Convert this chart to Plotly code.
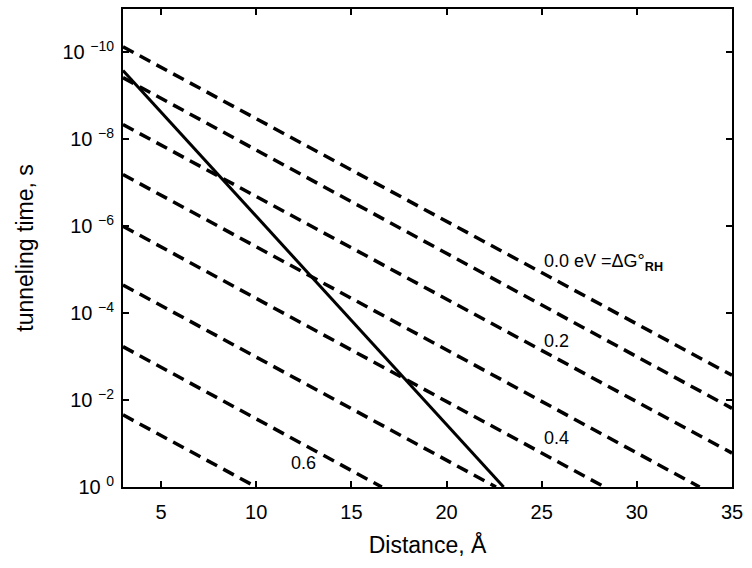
import math
import plotly.graph_objects as go

# Driving force of each dashed line (eV)
delta_g = [0.0, 0.1, 0.2, 0.3, 0.4, 0.5, 0.6, 0.7]
# Endpoints of each dashed line (distance in Å, time in s)
dash_x_start = [3, 3, 3, 3, 3, 3, 3, 3]
dash_t_start = [7.41e-11, 3.80e-10, 4.57e-9, 6.46e-8, 1.0e-6, 2.24e-5, 5.89e-4, 2.19e-2]
dash_x_end = [35, 35, 35, 33.3, 28.3, 22.6, 16.6, 10.0]
dash_t_end = [2.69e-3, 1.55e-2, 0.166, 1.0, 1.0, 1.0, 1.0, 1.0]

# Solid line endpoints
solid_x = [3, 23]
solid_t = [2.6e-10, 1.0]

# Axis ticks
x_ticks = [5, 10, 15, 20, 25, 30, 35]
y_tick_vals = [1e-10, 1e-8, 1e-6, 1e-4, 1e-2, 1e0]
y_tick_text = ["10 <sup>\u221210</sup>", "10 <sup>\u22128</sup>", "10 <sup>\u22126</sup>",
               "10 <sup>\u22124</sup>", "10 <sup>\u22122</sup>", "10 <sup>0</sup>"]

# Labels (text, x, time value)
label_text = ["0.0 eV =\u0394G\u00b0<sub><b>RH</b></sub>", "0.2", "0.4", "0.6"]
label_x = [25.0, 25.0, 25.0, 11.7]
label_t = [6.9e-6, 4.3e-4, 7.6e-2, 0.28]

FONT = "Arial, Liberation Sans, sans-serif"

fig = go.Figure()
for i in range(len(delta_g)):
    fig.add_trace(go.Scatter(
        x=[dash_x_start[i], dash_x_end[i]],
        y=[dash_t_start[i], dash_t_end[i]],
        mode="lines",
        line=dict(color="black", width=3.5, dash="12px,7px"),
        showlegend=False, hoverinfo="skip",
    ))
fig.add_trace(go.Scatter(
    x=solid_x, y=solid_t, mode="lines",
    line=dict(color="black", width=3), showlegend=False, hoverinfo="skip",
))

for t, x, y in zip(label_text, label_x, label_t):
    fig.add_annotation(x=x, y=math.log10(y), yref="y", xref="x", text=t, showarrow=False,
                       xanchor="left", yanchor="middle",
                       font=dict(family=FONT, size=18, color="black"))

fig.update_xaxes(
    range=[3, 35], tickvals=x_ticks, ticks="inside", ticklen=6, tickwidth=1.5,
    tickcolor="black", showline=True, linecolor="black", linewidth=2,
    mirror="ticks", showgrid=False, zeroline=False, ticklabelstandoff=6,
    tickfont=dict(family=FONT, size=20, color="black"),
    title=dict(text="Distance, \u00c5", font=dict(family=FONT, size=23, color="black"), standoff=15),
)
fig.update_yaxes(
    type="log", range=[0, -11], tickvals=y_tick_vals, ticktext=y_tick_text,
    ticks="inside", ticklen=6, tickwidth=1.5, tickcolor="black",
    showline=True, linecolor="black", linewidth=2, mirror="ticks",
    showgrid=False, zeroline=False, ticklabelstandoff=3,
    tickfont=dict(family=FONT, size=20, color="black"),
    title=dict(text="tunneling time, s", font=dict(family=FONT, size=23, color="black"), standoff=22),
)
fig.update_layout(
    width=752, height=568,
    margin=dict(l=123, r=20, t=7, b=81),
    plot_bgcolor="white", paper_bgcolor="white",
)
fig.write_html("out.html", config={"displayModeBar": False},
               post_script="document.body.style.margin='0';")
